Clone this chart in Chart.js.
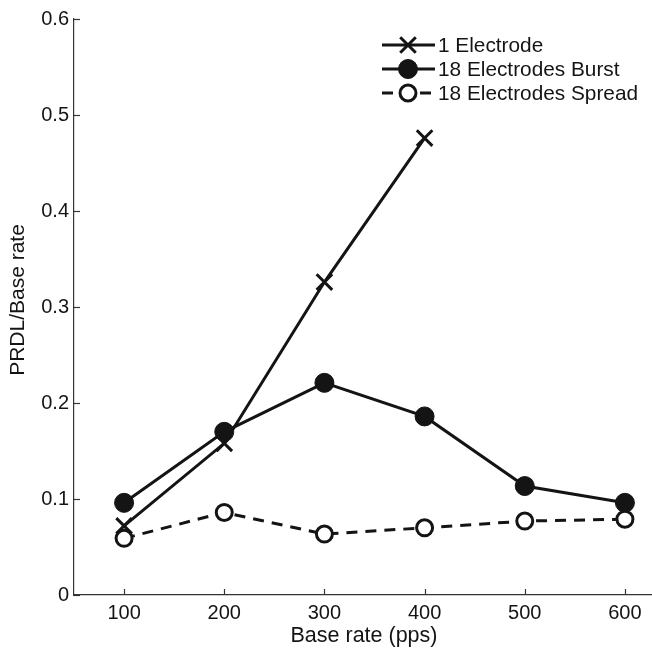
<!DOCTYPE html>
<html>
<head>
<meta charset="utf-8">
<script src="https://cdn.jsdelivr.net/npm/chart.js@4/dist/chart.umd.min.js"></script>
<style>
html,body{margin:0;padding:0;background:#fff;overflow:hidden;}
#wrap{width:689px;height:649px;position:relative;}
</style>
</head>
<body>
<div id="wrap"><canvas id="c" width="689" height="649"></canvas></div>
<script>
const baseRates = [100, 200, 300, 400, 500, 600];
const xTicks = [100, 200, 300, 400, 500, 600];
const yTicks = [0, 0.1, 0.2, 0.3, 0.4, 0.5, 0.6];
const oneElectrode = [0.072, 0.158, 0.326, 0.476];
const burst18 = [0.096, 0.170, 0.221, 0.186, 0.1135, 0.096];
const spread18 = [0.059, 0.086, 0.0635, 0.070, 0.077, 0.079];
const seriesNames = ['1 Electrode', '18 Electrodes Burst', '18 Electrodes Spread'];
const xTitle = 'Base rate (pps)';
const yTitle = 'PRDL/Base rate';

const FONT = '"Liberation Sans", Arial, Helvetica, sans-serif';
const INK = '#141414';

function pts(vals){ return vals.map((v,i)=>({x: baseRates[i], y: v})); }

const inwardTicks = {
  id: 'inwardTicks',
  afterDraw(chart){
    const ctx = chart.ctx, xs = chart.scales.x, ys = chart.scales.y;
    ctx.save();
    ctx.strokeStyle = '#333';
    ctx.lineWidth = 1.2;
    ctx.setLineDash([]);
    xTicks.forEach(t=>{
      const px = Math.round(xs.getPixelForValue(t)) + 0.5;
      ctx.beginPath(); ctx.moveTo(px, ys.bottom); ctx.lineTo(px, ys.bottom - 6); ctx.stroke();
    });
    yTicks.forEach(t=>{
      const py = Math.round(ys.getPixelForValue(t)) + 0.5;
      ctx.beginPath(); ctx.moveTo(xs.left, py); ctx.lineTo(xs.left + 6, py); ctx.stroke();
    });
    // axis titles
    ctx.fillStyle = INK;
    ctx.font = '21.5px ' + FONT;
    ctx.textAlign = 'center';
    ctx.textBaseline = 'middle';
    ctx.fillText(xTitle, 364, 636);
    ctx.save();
    ctx.translate(18, 300);
    ctx.rotate(-Math.PI / 2);
    ctx.font = '21px ' + FONT;
    ctx.fillText(yTitle, 0, 0);
    ctx.restore();
    ctx.restore();
  }
};

const customLegend = {
  id: 'customLegend',
  afterDraw(chart){
    const ctx = chart.ctx;
    const x0 = 382, x1 = 435, xm = 408, tx = 438;
    const rows = [45, 69, 93];
    ctx.save();
    chart.data.datasets.forEach((ds, i)=>{
      const y = rows[i];
      ctx.strokeStyle = ds.borderColor;
      ctx.lineWidth = ds.borderWidth;
      ctx.setLineDash(ds.borderDash || []);
      ctx.beginPath(); ctx.moveTo(x0, y); ctx.lineTo(x1, y); ctx.stroke();
      ctx.setLineDash([]);
      ctx.fillStyle = ds.pointBackgroundColor;
      ctx.strokeStyle = ds.pointBorderColor;
      ctx.lineWidth = ds.pointBorderWidth;
      Chart.helpers.drawPoint(ctx, {pointStyle: ds.pointStyle, radius: ds.pointRadius, borderWidth: ds.pointBorderWidth, rotation: 0}, xm, y);
      ctx.fillStyle = INK;
      ctx.font = '20.8px ' + FONT;
      ctx.textBaseline = 'middle';
      ctx.textAlign = 'left';
      ctx.fillText(seriesNames[i], tx, y + 1);
    });
    ctx.restore();
  }
};

new Chart(document.getElementById('c'), {
  type: 'line',
  data: {
    datasets: [
      {
        label: seriesNames[0], data: pts(oneElectrode), order: 2,
        borderColor: INK, borderWidth: 3, fill: false, tension: 0,
        pointStyle: 'crossRot', pointRadius: 11, pointBorderWidth: 3,
        pointBorderColor: INK, pointBackgroundColor: INK
      },
      {
        label: seriesNames[1], data: pts(burst18), order: 1,
        borderColor: INK, borderWidth: 3, fill: false, tension: 0,
        pointStyle: 'circle', pointRadius: 9.5, pointBorderWidth: 1,
        pointBorderColor: INK, pointBackgroundColor: INK
      },
      {
        label: seriesNames[2], data: pts(spread18), order: 0,
        borderColor: INK, borderWidth: 3, borderDash: [11, 8], fill: false, tension: 0,
        pointStyle: 'circle', pointRadius: 8, pointBorderWidth: 3,
        pointBorderColor: INK, pointBackgroundColor: '#ffffff'
      }
    ]
  },
  options: {
    responsive: false,
    animation: false,
    devicePixelRatio: 1,
    layout: { padding: { top: 19, right: 6, left: 0, bottom: 0 } },
    plugins: { legend: { display: false }, tooltip: { enabled: false } },
    scales: {
      x: {
        type: 'linear', min: 50, max: 650,
        afterBuildTicks(s){ s.ticks = xTicks.map(v=>({value: v})); },
        afterFit(s){ s.height = 54; },
        grid: { drawOnChartArea: false, drawTicks: false },
        border: { display: true, color: '#333', width: 1.2 },
        ticks: { color: INK, font: { family: FONT, size: 20 }, padding: 6, maxRotation: 0 },
        title: { display: false }
      },
      y: {
        type: 'linear', min: 0, max: 0.6,
        afterBuildTicks(s){ s.ticks = yTicks.map(v=>({value: v})); },
        afterFit(s){ s.width = 74; },
        grid: { drawOnChartArea: false, drawTicks: false },
        border: { display: true, color: '#333', width: 1.2 },
        ticks: { color: INK, font: { family: FONT, size: 20 }, padding: 5, callback: v => (v === 0 ? '0' : v.toFixed(1)) },
        title: { display: false }
      }
    }
  },
  plugins: [inwardTicks, customLegend]
});
</script>
</body>
</html>
